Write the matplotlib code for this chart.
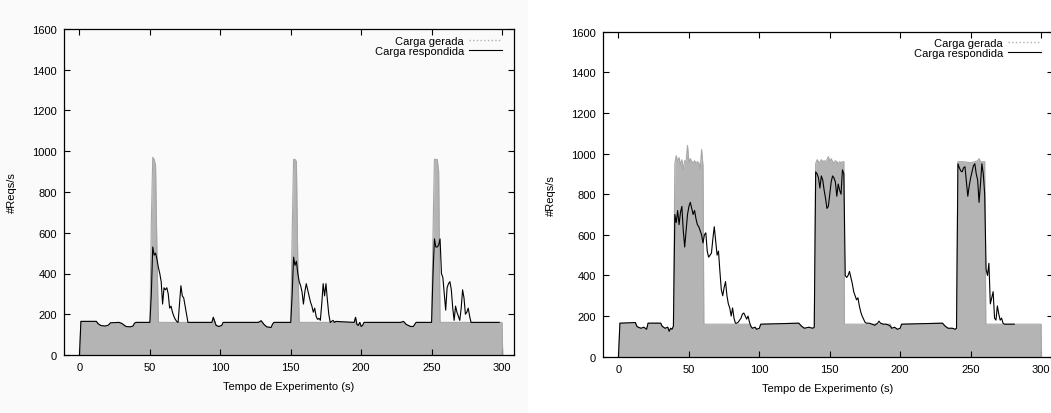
import numpy as np
import matplotlib
matplotlib.use('Agg')
import matplotlib.pyplot as plt
from matplotlib.lines import Line2D
from matplotlib.patches import Rectangle

plt.rcParams['font.family'] = ['Liberation Sans', 'DejaVu Sans']
plt.rcParams['font.size'] = 8

# ---------------- left panel: short bursts ----------------
gen_t_l = [0, 1, 12, 13, 15, 18, 20, 21, 22, 28, 30, 31, 33, 36, 38, 39, 40, 50,
           51, 52, 53, 54, 55, 56, 94, 95, 96, 97, 99, 101, 102, 127, 129, 131,
           133, 136, 137, 138, 150, 151, 152, 153, 154, 155, 156, 195, 196, 197,
           198, 199, 200, 201, 202, 228, 230, 232, 235, 237, 239, 250, 251, 252,
           253, 254, 255, 256, 300, 300.5]
gen_v_l = [0, 165, 165, 155, 145, 142, 145, 150, 158, 160, 155, 150, 140, 138, 142, 155, 160, 160,
           650, 970, 960, 930, 500, 160, 160, 185, 165, 145, 140, 145, 160, 160, 168, 150,
           138, 135, 150, 160, 160, 600, 960, 960, 950, 450, 160, 160, 185, 150,
           145, 160, 140, 145, 160, 160, 165, 150, 140, 140, 160, 160, 600,
           960, 960, 960, 900, 160, 160, 0]

resp_t_l = [0, 1, 12, 13, 15, 18, 20, 21, 22, 28, 30, 31, 33, 36, 38, 39, 40, 50,
            51, 52, 53, 54, 55, 56, 57, 58, 59, 60, 61, 62, 63, 64, 65, 66, 67,
            68, 69, 70, 71, 72, 73, 74, 75, 76, 77, 94, 95, 96, 97, 99, 101, 102,
            127, 129, 131, 133, 136, 137, 138, 150, 151, 152, 153, 154, 155, 156,
            157, 158, 159, 160, 161, 162, 163, 164, 165, 166, 167, 168, 169, 170,
            171, 172, 173, 174, 175, 176, 177, 178, 179, 180, 181, 182, 195, 196,
            197, 198, 199, 200, 201, 202, 228, 230, 232, 235, 237, 239, 250, 251,
            252, 253, 254, 255, 256, 257, 258, 259, 260, 261, 262, 263, 264, 265,
            266, 267, 268, 269, 270, 271, 272, 273, 274, 275, 276, 277, 278, 298]
resp_v_l = [0, 165, 165, 155, 145, 142, 145, 150, 158, 160, 155, 150, 140, 138, 142, 155, 160, 160,
            300, 530, 490, 500, 470, 430, 400, 360, 250, 330, 320, 330, 300, 230, 240,
            210, 190, 175, 165, 160, 250, 340, 290, 280, 240, 200, 160, 160, 185, 165,
            145, 140, 145, 160, 160, 168, 150, 138, 135, 150, 160, 160, 300, 480, 440,
            460, 400, 360, 340, 310, 250, 310, 350, 320, 290, 260, 240, 210, 230, 190,
            175, 180, 170, 250, 350, 290, 350, 270, 200, 160, 165, 170, 160, 165, 160,
            185, 150, 145, 160, 140, 145, 160, 160, 165, 150, 140, 140, 160, 160, 400,
            570, 530, 530, 540, 570, 400, 380, 300, 220, 330, 350, 360, 320, 230, 170,
            240, 210, 190, 170, 230, 320, 280, 200, 210, 230, 190, 160, 160]

# ---------------- right panel: long bursts ----------------
gen_t_r = [0, 1, 12, 13, 14, 16, 18, 20, 21, 30, 31, 33, 35, 36, 37, 38, 39, 40,
           41, 42, 43, 44, 45, 46, 47, 48, 49, 50, 51, 52, 53, 54, 55, 56, 57, 58,
           59, 60, 60.6, 93, 94, 95, 97, 98, 100, 101, 128, 130, 132, 135, 138,
           139, 140, 141, 142, 143, 144, 145, 146, 147, 148, 149, 150, 151, 152,
           153, 154, 155, 156, 157, 158, 159, 160, 160.4, 193, 194, 196, 198, 200,
           201, 230, 232, 234, 237, 239, 240, 241, 245, 250, 253, 255, 256, 257,
           260, 260.8, 300, 300.3]
gen_v_r = [0, 165, 168, 150, 145, 140, 145, 135, 165, 165, 150, 140, 145, 125, 140, 135, 150, 950,
           990, 960, 980, 945, 970, 920, 965, 960, 1040, 955, 975, 960, 955, 965, 950, 960, 955, 920,
           1020, 940, 160, 160, 150, 140, 145, 135, 140, 160, 165, 150, 140, 145, 140,
           145, 950, 970, 960, 955, 970, 960, 965, 960, 970, 985, 960, 975, 960,
           955, 965, 960, 950, 960, 955, 960, 960, 160, 160, 140, 145, 135, 140,
           160, 165, 150, 140, 140, 135, 140, 960, 960, 955, 960, 965, 975, 960,
           960, 160, 160, 0]

resp_t_r = [0, 1, 12, 13, 14, 16, 18, 20, 21, 30, 31, 33, 35, 36, 37, 38, 39, 40,
            41, 42, 43, 44, 45, 46, 47, 48, 49, 50, 51, 52, 53, 54, 55, 56, 57, 58,
            59, 60, 61, 62, 63, 64, 65, 66, 67, 68, 69, 70, 71, 72, 73, 74, 75, 76,
            77, 78, 79, 80, 81, 82, 83, 84, 85, 86, 87, 88, 89, 90, 91, 92, 93, 94,
            95, 97, 98, 100, 101, 128, 130, 132, 135, 138, 139, 140, 141, 142, 143,
            144, 145, 146, 147, 148, 149, 150, 151, 152, 153, 154, 155, 156, 157,
            158, 159, 160, 161, 162, 163, 164, 165, 166, 167, 168, 169, 170, 171,
            172, 173, 174, 175, 176, 178, 180, 182, 184, 185, 186, 188, 190, 192,
            193, 194, 196, 198, 200, 201, 230, 232, 234, 237, 239, 240, 241, 242,
            243, 244, 245, 246, 247, 248, 249, 250, 251, 252, 253, 254, 255, 256,
            257, 258, 259, 260, 261, 262, 263, 264, 265, 266, 267, 268, 269, 270,
            271, 272, 273, 274, 281]
resp_v_r = [0, 165, 168, 150, 145, 140, 145, 135, 165, 165, 150, 140, 145, 125, 140, 135, 150, 700,
            660, 720, 650, 710, 740, 620, 540, 620, 700, 740, 760, 730, 700, 720, 680, 650, 640, 620,
            600, 560, 600, 610, 520, 490, 500, 510, 580, 640, 570, 500, 520, 420, 330, 300, 340, 370,
            300, 260, 240, 200, 240, 190, 165, 165, 170, 180, 190, 210, 215, 200, 185, 200, 170, 150,
            140, 145, 135, 140, 160, 165, 150, 140, 145, 140, 145, 910, 900, 880, 830,
            890, 870, 820, 780, 730, 740, 800, 860, 890, 880, 860, 790, 850, 820,
            800, 920, 900, 400, 390, 400, 420, 390, 360, 320, 300, 280, 290, 250,
            220, 200, 185, 170, 165, 165, 160, 155, 165, 175, 165, 160, 160, 155,
            150, 140, 145, 135, 140, 160, 165, 150, 140, 140, 135, 140, 950, 930,
            915, 910, 930, 935, 860, 790, 840, 880, 910, 940, 950, 900, 870, 760,
            850, 950, 900, 800, 430, 400, 460, 260, 290, 320, 190, 180, 250, 210,
            180, 190, 165, 160, 160]

yticks = [0, 200, 400, 600, 800, 1000, 1200, 1400, 1600]
xticks = [0, 50, 100, 150, 200, 250, 300]

fig = plt.figure(figsize=(10.51, 4.14), dpi=100)
fig.patch.set_facecolor('white')
fig.patches.append(Rectangle((0, 0), 528/1051, 1, transform=fig.transFigure,
                             facecolor='#fafafa', edgecolor='none', zorder=-10))

panels = [
    ([64/1051, 1-356/414, 450/1051, 326/414], gen_t_l, gen_v_l, resp_t_l, resp_v_l),
    ([603/1051, 1-357.7/414, 450/1051, 325/414], gen_t_r, gen_v_r, resp_t_r, resp_v_r),
]

for pos, gt, gv, rt, rv in panels:
    ax = fig.add_axes(pos)
    ax.set_facecolor('none')
    ax.fill_between(gt, gv, 0, color='#b4b4b4', lw=0)
    ax.plot(gt, gv, color='#a6a6a6', lw=0.8)
    ax.plot(rt, rv, color='black', lw=0.8)

    ax.set_xlim(-11, 308.5)
    ax.set_ylim(0, 1600)
    ax.set_xticks(xticks)
    ax.set_yticks(yticks)
    ax.tick_params(direction='in', top=True, right=True, length=4, width=0.8,
                   pad=5, labelsize=8)
    for s in ax.spines.values():
        s.set_linewidth(0.9)

    ax.set_xlabel('Tempo de Experimento (s)', fontsize=8)
    ax.set_ylabel('#Reqs/s', fontsize=8)
    ax.xaxis.set_label_coords(0.5, -0.08)
    ax.yaxis.set_label_coords(-0.104, 0.5)

    handles = [Line2D([], [], color='#b0b0b0', lw=1.0, ls=':'),
               Line2D([], [], color='black', lw=0.8)]
    ax.legend(handles, ['Carga gerada', 'Carga respondida'], loc='upper right',
              bbox_to_anchor=(0.988, 1.0), frameon=False, markerfirst=False,
              handlelength=3.0, handletextpad=0.4, labelspacing=0.0,
              borderaxespad=0.3, borderpad=0.3, fontsize=8)

fig.savefig('out.png', dpi=100)
